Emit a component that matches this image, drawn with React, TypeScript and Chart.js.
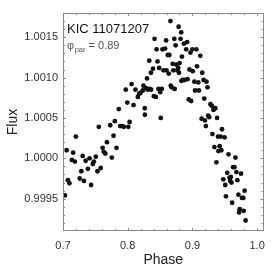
import React, { useEffect, useRef } from "react";
import { Chart, registerables } from "chart.js";

Chart.register(...registerables);

const PHASE: number[] = [
  0.7030, 0.7055, 0.7076, 0.7100, 0.7137, 0.7157, 0.7183, 0.7198, 0.7259, 0.7283,
  0.7304, 0.7324, 0.7350, 0.7385, 0.7411, 0.7435, 0.7461, 0.7476, 0.7507, 0.7533,
  0.7553, 0.7583, 0.7613, 0.7629, 0.7654, 0.7679, 0.7730, 0.7755, 0.7781, 0.7801,
  0.7827, 0.7862, 0.7883, 0.7918, 0.7940, 0.7970, 0.7994, 0.8009, 0.8029,
  0.8060, 0.8090, 0.8120, 0.8157, 0.8177, 0.8197, 0.8233, 0.8242, 0.8263, 0.8265,
  0.8283, 0.8298, 0.8309, 0.8333, 0.8340, 0.8359, 0.8362, 0.8390, 0.8405, 0.8415,
  0.8435, 0.8446, 0.8461, 0.8476, 0.8486, 0.8502, 0.8511, 0.8527, 0.8538, 0.8553,
  0.8578, 0.8593, 0.8598, 0.8619, 0.8634, 0.8644, 0.8660, 0.8665, 0.8680, 0.8695,
  0.8706, 0.8721, 0.8726, 0.8741, 0.8751, 0.8766, 0.8780, 0.8787, 0.8792, 0.8802,
  0.8817, 0.8827, 0.8838, 0.8830, 0.8853, 0.8868, 0.8878, 0.8904, 0.8919, 0.8924,
  0.8944, 0.8954, 0.8970, 0.8980, 0.9000, 0.9005, 0.9030, 0.9041, 0.9061, 0.9071,
  0.9091, 0.9101, 0.9122, 0.9142, 0.9152, 0.9173, 0.9183, 0.9193, 0.9208, 0.9218,
  0.9233, 0.9244, 0.9260, 0.9279, 0.9300, 0.9310, 0.9325, 0.9340, 0.9355, 0.9371,
  0.9381, 0.9396, 0.9401, 0.9421, 0.9437, 0.9447, 0.9457, 0.9477, 0.9497, 0.9508,
  0.9518, 0.9538, 0.9558, 0.9574, 0.9584, 0.9594, 0.9604, 0.9614, 0.9629, 0.9650,
  0.9665, 0.9680, 0.9695, 0.9711, 0.9721, 0.9731, 0.9751, 0.9766, 0.9787, 0.9792,
  0.9807, 0.9822,
];

const FLUX: number[] = [
  0.99954, 1.00010, 0.99973, 0.99969, 0.99998, 1.00007, 0.99996, 1.00027, 0.99975, 0.99984,
  1.00003, 0.99972, 0.99997, 0.99987, 1.00000, 0.99967, 0.99993, 0.99996, 1.00002, 0.99984,
  1.00039, 0.99988, 1.00013, 1.00008, 1.00006, 1.00020, 1.00041, 1.00001, 1.00028, 1.00046,
  1.00013, 1.00061, 1.00040, 1.00040, 1.00039, 1.00085, 1.00069, 1.00039, 1.00045,
  1.00092, 1.00066, 1.00085, 1.00076, 1.00080, 1.00081, 1.00084, 1.00090, 1.00062, 1.00054,
  1.00087, 1.00099, 1.00085, 1.00121, 1.00086, 1.00106, 1.00085, 1.00111, 1.00077, 1.00148,
  1.00076, 1.00135, 1.00120, 1.00086, 1.00112, 1.00082, 1.00050, 1.00086, 1.00135, 1.00109,
  1.00136, 1.00146, 1.00109, 1.00128, 1.00105, 1.00128, 1.00170, 1.00090, 1.00088, 1.00117,
  1.00109, 1.00148, 1.00086, 1.00140, 1.00116, 1.00109, 1.00112, 1.00163, 1.00106, 1.00118,
  1.00148, 1.00156, 1.00126, 1.00096, 1.00097, 1.00142, 1.00097, 1.00135, 1.00144, 1.00098,
  1.00073, 1.00110, 1.00131, 1.00071, 1.00135, 1.00108, 1.00095, 1.00084, 1.00135, 1.00114,
  1.00094, 1.00084, 1.00127, 1.00049, 1.00106, 1.00097, 1.00074, 1.00047, 1.00040, 1.00095,
  1.00088, 1.00053, 1.00051, 1.00067, 1.00065, 1.00030, 1.00060, 1.00014, 1.00062, 0.99995,
  1.00050, 1.00027, 1.00009, 1.00015, 1.00027, 1.00010, 1.00036, 0.99974, 1.00026, 0.99967,
  0.99953, 0.99982, 1.00005, 0.99976, 0.99972, 0.99977, 0.99970, 0.99945, 0.99989, 0.99989,
  1.00001, 0.99983, 0.99973, 0.99955, 0.99933, 0.99937, 0.99981, 0.99951, 0.99951, 0.99935,
  0.99960, 0.99923,
];

const X_TICKS: number[] = [0.7, 0.8, 0.9, 1.0];
const Y_TICKS: number[] = [0.9995, 1.0, 1.0005, 1.001, 1.0015];
const X_MIN = 0.7;
const X_MAX = 1.01;
const Y_MIN = 0.9991;
const Y_MAX = 1.0018;
const X_MINOR_STEP = 0.02;
const Y_MINOR_STEP = 0.0001;

const STAR_LABEL = "KIC 11071207";
const PHI_SYMBOL = "φ";
const PHI_SUB = "par";
const PHI_VALUE = " = 0.89";
const X_TITLE = "Phase";
const Y_TITLE = "Flux";

const FONT = "'Liberation Sans', Arial, sans-serif";

const framePlugin = {
  id: "frameAndNotes",
  afterDraw(chart: any) {
    const { ctx, chartArea, scales } = chart;
    const { left, right, top, bottom } = chartArea;
    ctx.save();
    ctx.strokeStyle = "#8a8a8a";
    ctx.lineWidth = 1;
    ctx.strokeRect(Math.round(left) + 0.5, Math.round(top) + 0.5, Math.round(right - left) - 1, Math.round(bottom - top) - 1);

    const xs = scales.x;
    const ys = scales.y;
    ctx.beginPath();
    const nx = Math.round((X_MAX - X_MIN) / X_MINOR_STEP);
    for (let i = 0; i <= nx; i++) {
      const v = X_MIN + i * X_MINOR_STEP;
      const major = X_TICKS.some((t) => Math.abs(t - v) < 1e-6);
      const len = major ? 3 : 2;
      const px = Math.round(xs.getPixelForValue(v)) + 0.5;
      if (px <= left + 1 || px >= right - 1) continue;
      ctx.moveTo(px, bottom);
      ctx.lineTo(px, bottom - len);
      ctx.moveTo(px, top);
      ctx.lineTo(px, top + len);
    }
    const ny = Math.round((Y_MAX - Y_MIN) / Y_MINOR_STEP);
    for (let i = 0; i <= ny; i++) {
      const v = Y_MIN + i * Y_MINOR_STEP;
      const major = Y_TICKS.some((t) => Math.abs(t - v) < 1e-8);
      const len = major ? 3 : 2;
      const py = Math.round(ys.getPixelForValue(v)) + 0.5;
      if (py <= top + 1 || py >= bottom - 1) continue;
      ctx.moveTo(left, py);
      ctx.lineTo(left + len, py);
      ctx.moveTo(right, py);
      ctx.lineTo(right - len, py);
    }
    ctx.stroke();

    ctx.textBaseline = "alphabetic";
    ctx.textAlign = "left";
    ctx.fillStyle = "#111";
    ctx.font = `13px ${FONT}`;
    ctx.fillText(STAR_LABEL, left + 4, top + 19.5);

    ctx.fillStyle = "#555";
    ctx.font = `11px ${FONT}`;
    let x = left + 4;
    const base = top + 36.3;
    ctx.fillText(PHI_SYMBOL, x, base);
    x += ctx.measureText(PHI_SYMBOL).width + 0.5;
    ctx.font = `7.5px ${FONT}`;
    ctx.fillText(PHI_SUB, x, base + 2.5);
    x += ctx.measureText(PHI_SUB).width;
    ctx.font = `11px ${FONT}`;
    ctx.fillText(PHI_VALUE, x, base);
    ctx.restore();
  },
};

export default function App() {
  const ref = useRef<HTMLCanvasElement | null>(null);
  useEffect(() => {
    if (!ref.current) return;
    const data = PHASE.map((p, i) => ({ x: p, y: FLUX[i] }));
    const chart = new Chart(ref.current, {
      type: "scatter",
      data: {
        datasets: [
          {
            data,
            backgroundColor: "#111",
            borderWidth: 0,
            pointRadius: 2.4,
          },
        ],
      },
      options: {
        animation: false,
        responsive: false,
        devicePixelRatio: 1,
        layout: { padding: { top: 13, right: 7.5, left: 0, bottom: 0 } },
        plugins: { legend: { display: false }, tooltip: { enabled: false } },
        scales: {
          x: {
            type: "linear",
            min: X_MIN,
            max: X_MAX,
            afterBuildTicks: (s: any) => {
              s.ticks = X_TICKS.map((v) => ({ value: v }));
            },
            afterFit: (s: any) => {
              s.height = 42;
            },
            ticks: {
              callback: (v: any) => Number(v).toFixed(1),
              font: { size: 11, family: FONT },
              color: "#333",
              padding: 8,
              maxRotation: 0,
            },
            grid: { display: false, drawTicks: false },
            border: { display: false },
            title: {
              display: true,
              text: X_TITLE,
              font: { size: 14, family: FONT },
              color: "#222",
              padding: { top: 0, bottom: 4 },
            },
          },
          y: {
            type: "linear",
            min: Y_MIN,
            max: Y_MAX,
            afterBuildTicks: (s: any) => {
              s.ticks = Y_TICKS.map((v) => ({ value: v }));
            },
            afterFit: (s: any) => {
              s.width = 63;
            },
            ticks: {
              callback: (v: any) => Number(v).toFixed(4),
              font: { size: 11, family: FONT },
              color: "#333",
              padding: 5,
            },
            grid: { display: false, drawTicks: false },
            border: { display: false },
            title: {
              display: true,
              text: Y_TITLE,
              font: { size: 14, family: FONT },
              color: "#222",
              padding: { top: 5, bottom: 0 },
            },
          },
        },
      },
      plugins: [framePlugin],
    });
    return () => chart.destroy();
  }, []);
  return (
    <div style={{ position: "fixed", left: 0, top: 0, width: 273, height: 273, background: "#fff" }}>
      <canvas ref={ref} width={273} height={273} />
    </div>
  );
}
